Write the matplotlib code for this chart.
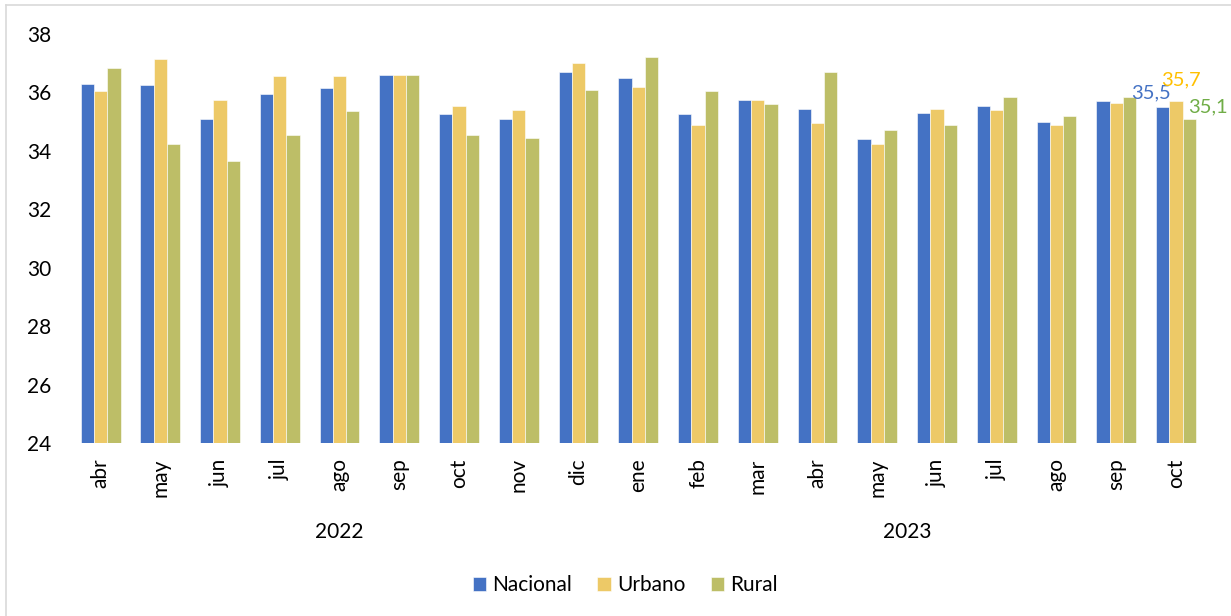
import matplotlib
matplotlib.use('Agg')
import numpy as np
import matplotlib.pyplot as plt
from matplotlib.lines import Line2D

plt.rcParams['font.family'] = ['Lato', 'DejaVu Sans']

months = ['abr', 'may', 'jun', 'jul', 'ago', 'sep', 'oct', 'nov', 'dic',
          'ene', 'feb', 'mar', 'abr', 'may', 'jun', 'jul', 'ago', 'sep', 'oct']
years = ['2022', '2023']
year_counts = [9, 10]

nacional = [36.3, 36.25, 35.1, 35.95, 36.15, 36.6, 35.25, 35.1, 36.7,
            36.5, 35.25, 35.75, 35.45, 34.4, 35.3, 35.55, 35.0, 35.7, 35.5]
urbano = [36.05, 37.15, 35.75, 36.55, 36.55, 36.6, 35.55, 35.4, 37.0,
          36.2, 34.9, 35.75, 34.95, 34.25, 35.45, 35.4, 34.9, 35.65, 35.7]
rural = [36.85, 34.25, 33.65, 34.55, 35.35, 36.6, 34.55, 34.45, 36.1,
         37.2, 36.05, 35.6, 36.7, 34.7, 34.9, 35.85, 35.2, 35.85, 35.1]

series = [('Nacional', nacional, '#4472C4', '#4472C4'),
          ('Urbano', urbano, '#EDC967', '#FFC000'),
          ('Rural', rural, '#BDBE67', '#70AD47')]

fig = plt.figure(figsize=(12.31, 6.16), dpi=100)
ax = fig.add_axes([0.0575, 0.2808, 0.922, 0.664])

x = np.arange(len(months))
w = 0.222
for i, (name, vals, col, lcol) in enumerate(series):
    ax.bar(x + (i - 1) * w, np.array(vals) - 24, w, bottom=24, color=col,
           edgecolor='white', linewidth=0.4, label=name)

# etiquetas del ultimo grupo
last = len(months) - 1
lab_off = [(-0.41, 0.48), (0.08, 0.73), (0.53, 0.4)]
for (name, vals, col, lcol), (dx, dy) in zip(series, lab_off):
    ax.text(last + dx, vals[last] + dy, f'{vals[last]:.1f}'.replace('.', ','),
            color=lcol, fontsize=14.5, ha='center', va='center')

ax.set_ylim(24, 38)
ax.set_xlim(-0.5, len(months) - 0.5)
ax.set_yticks(range(24, 39, 2))
ax.set_xticks(x)
ax.set_xticklabels(months, rotation=90)
ax.tick_params(axis='y', length=0, pad=14, labelsize=15)
ax.tick_params(axis='x', length=0, pad=11, labelsize=15)
for s in ax.spines.values():
    s.set_visible(False)

start = 0
for yr, n in zip(years, year_counts):
    ax.text(start + (n - 1) / 2, -0.218, yr, transform=ax.get_xaxis_transform(),
            ha='center', va='center', fontsize=15)
    start += n

ax.legend(loc='center', bbox_to_anchor=(0.508, 0.05), bbox_transform=fig.transFigure,
          ncol=3, frameon=False, fontsize=15, handlelength=0.65, handleheight=0.65,
          handletextpad=0.3, columnspacing=1.2)

# borde gris arriba e izquierda
fig.add_artist(Line2D([0.005, 0.005], [0, 0.992], transform=fig.transFigure,
                      color='#D9D9D9', linewidth=1.2))
fig.add_artist(Line2D([0.005, 1], [0.992, 0.992], transform=fig.transFigure,
                      color='#D9D9D9', linewidth=1.2))

fig.savefig('out.png', dpi=100)
